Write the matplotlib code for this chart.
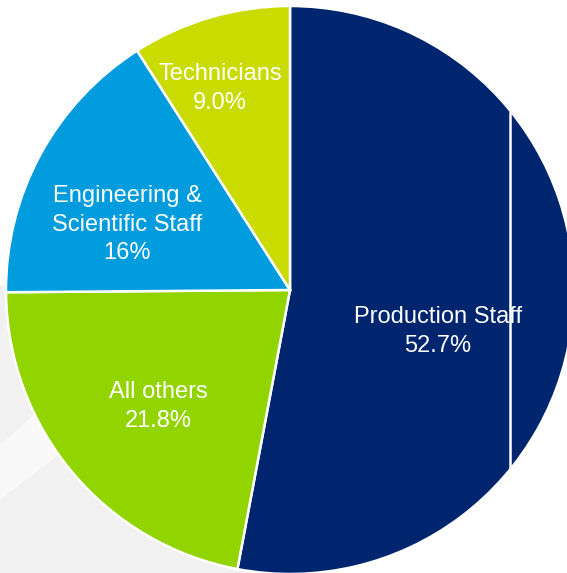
import matplotlib
matplotlib.use("Agg")
import matplotlib.pyplot as plt
from matplotlib.patches import Polygon
from matplotlib.lines import Line2D

plt.rcParams['font.family'] = ['Liberation Sans', 'DejaVu Sans']

categories = ["Production Staff", "All others", "Engineering &\nScientific Staff", "Technicians"]
values = [52.7, 21.8, 16.0, 9.0]
value_labels = ["52.7%", "21.8%", "16%", "9.0%"]
colors = ["#00256F", "#92D400", "#009CDE", "#C9DB00"]
label_pos = [(0.521, -0.147), (-0.465, -0.410), (-0.574, 0.230), (-0.246, 0.709)]

W, H = 567, 573
fig = plt.figure(figsize=(W / 100, H / 100), dpi=100)
fig.patch.set_facecolor("white")

# light grey background decoration (lower-left)
def px(x, y):
    return (x / W, 1 - y / H)

bg = Polygon([px(0, 285), px(260, 330), px(300, 573), px(0, 573)],
             closed=True, transform=fig.transFigure, facecolor="#F1F1F1",
             edgecolor="none", zorder=-10)
fig.patches.append(bg)
stripe = Polygon([px(0, 445), px(90, 365), px(150, 385), px(0, 500)],
                 closed=True, transform=fig.transFigure, facecolor="#F9F9F9",
                 edgecolor="none", zorder=-9)
fig.patches.append(stripe)

cx, cy, r = 290, 290, 284
ax = fig.add_axes([(cx - r) / W, (H - cy - r) / H, 2 * r / W, 2 * r / H])
ax.set_zorder(5)
ax.set_facecolor("none")
wedges, _ = ax.pie(values, colors=colors, startangle=90, counterclock=False,
                   radius=1.0,
                   wedgeprops=dict(edgecolor="white", linewidth=1.8))
ax.set_xlim(-1, 1)
ax.set_ylim(-1, 1)
ax.set_aspect("equal")
ax.axis("off")

for cat, vl, (x, y) in zip(categories, value_labels, label_pos):
    ax.text(x, y, f"{cat}\n{vl}", ha="center", va="center", color="white",
            fontsize=17, linespacing=1.4)

# thin white vertical line on the right of the chart
fig.add_artist(Line2D([510 / W, 510 / W], [1 - 113 / H, 1 - 468 / H],
                      transform=fig.transFigure, color="white", linewidth=1.8,
                      zorder=10))

fig.savefig("out.png", dpi=100)
